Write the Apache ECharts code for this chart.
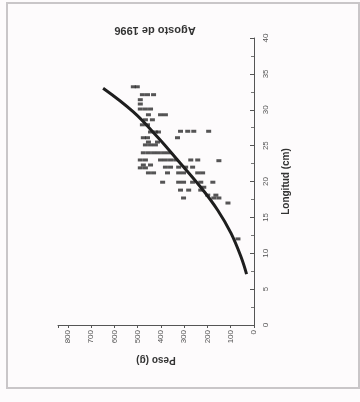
<!DOCTYPE html>
<html>
<head>
<meta charset="utf-8">
<script src="https://cdn.jsdelivr.net/npm/echarts@6/dist/echarts.min.js"></script>
<style>
html,body{margin:0;padding:0;background:#fdfbfc;}
#c{width:360px;height:402px;}
</style>
</head>
<body>
<div id="c"></div>
<script>
var titleText = 'Agosto de 1996';
var xName = 'Peso (g)';
var yName = 'Longitud (cm)';
var pesoTicks = [0, 100, 200, 300, 400, 500, 600, 700, 800];
var longTicks = [0, 5, 10, 15, 20, 25, 30, 35, 40];

// observed fish [peso (g), longitud (cm)]
var observed = [
  [519,33.2],[502,33.2],
  [480,32.1],[458,32.1],[432,32.1],
  [489,31.4],[489,30.8],
  [489,30.1],[467,30.1],[445,30.1],
  [454,29.3],[402,29.3],[381,29.3],
  [467,28.6],[437,28.6],
  [480,27.9],[458,27.9],
  [316,27.0],[285,27.0],[259,27.0],[195,27.0],
  [445,26.9],[424,26.9],[411,26.9],
  [329,26.1],[476,26.1],[458,26.1],
  [454,25.5],[415,25.5],
  [467,25.1],[445,25.1],[424,25.1],
  [476,24.0],[454,24.0],[432,24.0],[411,24.0],[389,24.0],[368,24.0],
  [489,23.0],[467,23.0],[402,23.0],[381,23.0],[359,23.0],[337,23.0],[272,23.0],[242,23.0],
  [151,22.9],
  [476,22.3],[445,22.3],
  [489,21.9],[467,21.9],
  [381,22.0],[359,22.0],[324,22.0],[294,22.0],[264,22.0],
  [454,21.2],[432,21.2],[372,21.2],[324,21.2],[303,21.2],[242,21.2],[221,21.2],
  [393,19.9],[324,19.9],[303,19.9],[264,19.9],[229,19.9],[177,19.9],
  [316,18.8],[281,18.8],[229,18.8],
  [216,19.2],[303,17.7],
  [199,18.1],[164,18.1],
  [173,17.7],[151,17.7],
  [112,17.0],
  [69,12.0]
];

// fitted length-weight curve [peso (g), longitud (cm)]
var fitted = [
  [32,7.1],[56,9.5],[99,12.8],[156,16.0],[229,19.2],
  [329,23.0],[415,26.2],[519,29.7],[649,33.0]
];

var chart = echarts.init(document.getElementById('c'), null, {renderer:'canvas'});
var font = 'Liberation Sans, Arial, sans-serif';
chart.setOption({
  backgroundColor: '#fdfbfc',
  animation: false,
  grid: {left: 58, right: 106, top: 38, bottom: 77},
  graphic: [
    {type:'rect', shape:{x:7, y:3, width:352, height:385},
     style:{fill:'none', stroke:'#c9c6c8', lineWidth:2}},
    {type:'text', x:155, y:30, rotation:Math.PI,
     style:{text:titleText, font:'bold 11px ' + font, fill:'#333',
            textAlign:'center', textVerticalAlign:'middle'}}
  ],
  xAxis: {
    type:'value', inverse:true, min:0, max:843, interval:100,
    name:xName, nameLocation:'middle', nameGap:30, nameRotate:180,
    nameTextStyle:{fontFamily:font, fontSize:10, color:'#333', fontWeight:'bold'},
    axisLine:{show:true, lineStyle:{color:'#555', width:1}},
    axisTick:{show:true, length:3, lineStyle:{color:'#555'}},
    axisLabel:{rotate:90, fontSize:8, fontFamily:font, color:'#555', margin:5,
      formatter:function(v){return pesoTicks.indexOf(v)>=0 ? String(v) : '';}},
    splitLine:{show:false}
  },
  yAxis: {
    type:'value', position:'right', min:0, max:40, interval:5,
    name:yName, nameLocation:'middle', nameGap:27, nameRotate:90,
    nameTextStyle:{fontFamily:font, fontSize:10, color:'#333', fontWeight:'bold'},
    axisLine:{show:true, lineStyle:{color:'#555', width:1}},
    axisTick:{show:true, inside:true, length:4, lineStyle:{color:'#555'}},
    minorTick:{show:true, splitNumber:2, length:3, lineStyle:{color:'#777'}},
    axisLabel:{rotate:90, fontSize:8, fontFamily:font, color:'#555', margin:8,
      formatter:function(v){return longTicks.indexOf(v)>=0 ? String(v) : '';}},
    splitLine:{show:false}
  },
  series: [
    {type:'scatter', data:observed, symbol:'rect', symbolSize:[5,3],
     itemStyle:{color:'#2b2b2b'}},
    {type:'line', data:fitted, smooth:0.4, showSymbol:false,
     lineStyle:{color:'#1e1e1e', width:3}}
  ]
});
</script>
</body>
</html>
